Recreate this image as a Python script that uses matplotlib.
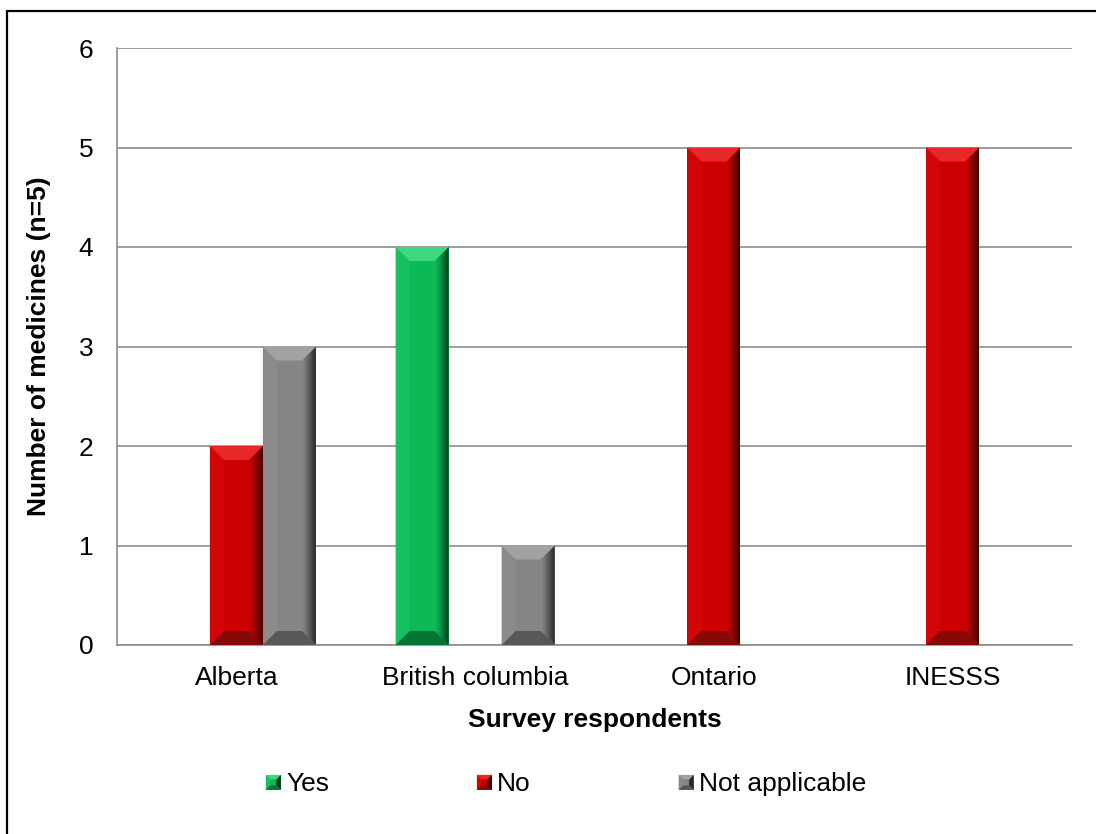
import numpy as np
import matplotlib
matplotlib.use("Agg")
import matplotlib.pyplot as plt
from matplotlib.patches import Polygon, Rectangle
from matplotlib.legend_handler import HandlerBase
from matplotlib.colors import to_rgb

# ---- data ----
categories = ["Alberta", "British columbia", "Ontario", "INESSS"]
series_names = ["Yes", "No", "Not applicable"]
yes_vals = [0, 4, 0, 0]
no_vals = [2, 0, 5, 5]
na_vals = [3, 1, 0, 0]
y_ticks = [0, 1, 2, 3, 4, 5, 6]

# ---- styles ----
styles = {
    "Yes": dict(face="#0CB955", top="#3FD680", left="#16C060", dark="#00361A", bottom="#057535"),
    "No": dict(face="#CC0000", top="#E82828", left="#D20606", dark="#350000", bottom="#870808"),
    "Not applicable": dict(face="#858585", top="#A2A2A2", left="#8B8B8B", dark="#262626", bottom="#585858"),
}
FS = 19
plt.rcParams["font.family"] = ["Liberation Sans", "DejaVu Sans"]

W, H = 1096, 834
fig = plt.figure(figsize=(W / 100, H / 100), dpi=100)
ax = fig.add_axes([117 / W, (H - 645) / H, (1072 - 117) / W, (645 - 48) / H])

x = np.arange(len(categories))
bw = 0.222
all_vals = [yes_vals, no_vals, na_vals]
containers = []
for i, (name, vals) in enumerate(zip(series_names, all_vals)):
    bars = ax.bar(x + (i - 1) * bw, vals, bw, color=styles[name]["face"],
                  linewidth=0, zorder=3, label=name)
    containers.append((name, bars))

ax.set_xlim(-0.5, len(categories) - 0.5)
ax.set_ylim(0, 6)
ax.set_yticks(y_ticks)
ax.set_xticks(x)
ax.set_xticklabels(categories, fontsize=FS)
ax.set_yticklabels([str(t) for t in y_ticks], fontsize=FS)
ax.tick_params(axis="y", length=0, pad=17)
ax.tick_params(axis="x", length=0, pad=15)
ax.yaxis.grid(True, color="#8C8C8C", linewidth=1.2, zorder=0)
ax.set_axisbelow(True)
for s in ["top", "right"]:
    ax.spines[s].set_visible(False)
for s in ["left", "bottom"]:
    ax.spines[s].set_color("#8C8C8C")
    ax.spines[s].set_linewidth(1.2)
ax.set_ylabel("Number of medicines (n=5)", fontsize=FS, fontweight="bold", labelpad=20)
ax.set_xlabel("Survey respondents", fontsize=FS, fontweight="bold", labelpad=13)

# ---- bevel overlays ----
B = 14  # px
inv = ax.transData.inverted()


def to_data(pts):
    return inv.transform(np.array(pts))


for name, bars in containers:
    st = styles[name]
    for p in bars:
        h = p.get_height()
        if h <= 0:
            continue
        (x0, y0), (x1, y1) = ax.transData.transform([(p.get_x(), 0), (p.get_x() + p.get_width(), h)])
        b = B
        top = [(x0, y1), (x1, y1), (x1 - b, y1 - b), (x0 + b, y1 - b)]
        bot = [(x0, y0), (x1, y0), (x1 - b, y0 + b), (x0 + b, y0 + b)]
        left = [(x0, y0), (x0, y1), (x0 + b, y1 - b), (x0 + b, y0 + b)]
        right = [(x1, y0), (x1, y1), (x1 - b, y1 - b), (x1 - b, y0 + b)]
        ax.add_patch(Polygon(to_data(left), closed=True, facecolor=st["left"], edgecolor="none", zorder=4))
        rp = Polygon(to_data(right), closed=True, facecolor="none", edgecolor="none", zorder=4)
        ax.add_patch(rp)
        ax.add_patch(Polygon(to_data(bot), closed=True, facecolor=st["bottom"], edgecolor="none", zorder=4.2))
        ax.add_patch(Polygon(to_data(top), closed=True, facecolor=st["top"], edgecolor="none", zorder=4.2))
        c1 = np.array(to_rgb(st["face"]))
        c2 = np.array(to_rgb(st["dark"]))
        t = np.linspace(0, 1, 64) ** 1.3
        grad = (c1[None, :] * (1 - t[:, None]) + c2[None, :] * t[:, None])[None, :, :]
        e = to_data([(x1 - b, y0), (x1, y1)])
        im = ax.imshow(grad, extent=[e[0][0], e[1][0], e[0][1], e[1][1]], aspect="auto",
                       zorder=4.05, interpolation="bilinear")
        im.set_clip_path(rp)

ax.set_xlim(-0.5, len(categories) - 0.5)
ax.set_ylim(0, 6)


# ---- legend with beveled squares ----
class BevelHandler(HandlerBase):
    def __init__(self, st):
        super().__init__()
        self.st = st

    def create_artists(self, legend, orig_handle, xdescent, ydescent, width, height, fontsize, trans):
        s = min(width, height * 1.1)
        x0 = -xdescent + (width - s) / 2
        y0 = -ydescent + (height - s) / 2 - 0.5
        x1, y1 = x0 + s, y0 + s
        b = s * 0.3
        st = self.st
        polys = [
            ([(x0, y0), (x1, y0), (x1, y1), (x0, y1)], st["face"]),
            ([(x0, y0), (x0, y1), (x0 + b, y1 - b), (x0 + b, y0 + b)], st["left"]),
            ([(x1, y0), (x1, y1), (x1 - b, y1 - b), (x1 - b, y0 + b)], st["dark"]),
            ([(x0, y0), (x1, y0), (x1 - b, y0 + b), (x0 + b, y0 + b)], st["bottom"]),
            ([(x0, y1), (x1, y1), (x1 - b, y1 - b), (x0 + b, y1 - b)], st["top"]),
        ]
        return [Polygon(p, closed=True, facecolor=c, edgecolor="none", transform=trans) for p, c in polys]


handles = [Rectangle((0, 0), 1, 1) for _ in series_names]
hmap = {h: BevelHandler(styles[n]) for h, n in zip(handles, series_names)}
fig.legend(handles, series_names, handler_map=hmap, ncol=3, loc="center",
           bbox_to_anchor=(566 / W, (H - 784) / H), frameon=False, fontsize=FS,
           handlelength=0.57, handleheight=0.57, handletextpad=0.2, columnspacing=5.6,
           borderpad=0, borderaxespad=0)

# ---- outer border (right/bottom edges fall outside the image) ----
fig.add_artist(Rectangle((7 / W, -5 / H), (W + 10) / W, (H - 11 + 5) / H, transform=fig.transFigure,
                         fill=False, edgecolor="black", linewidth=1.6))

fig.savefig("out.png", dpi=100)
